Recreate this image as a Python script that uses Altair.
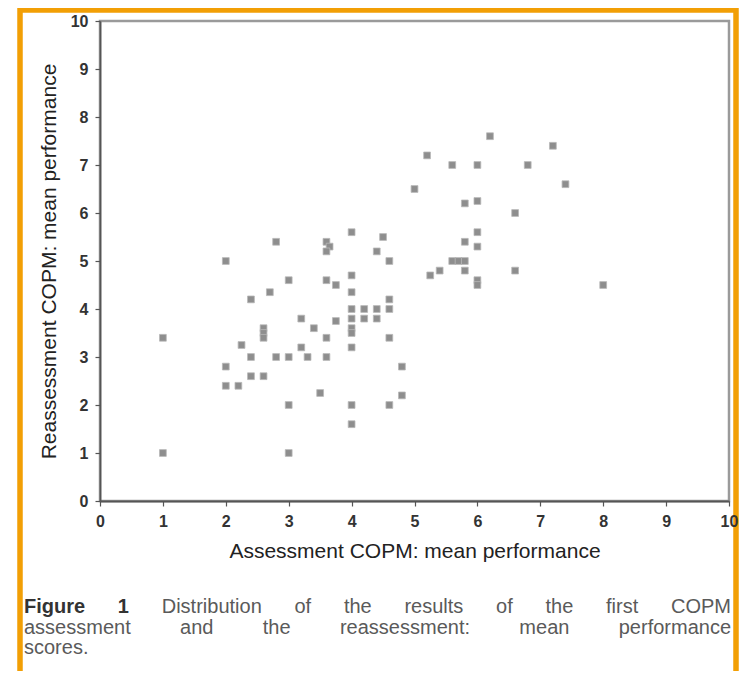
import altair as alt
import pandas as pd

# Data (assessment vs reassessment mean performance)
assess = [1.0, 1.0, 2.0, 2.0, 2.0, 2.2, 2.25, 2.4, 2.4, 2.4, 2.6, 2.6, 2.6, 2.6,
          2.7, 2.8, 2.8, 3.0, 3.0, 3.0, 3.0, 3.2, 3.4, 3.3, 3.2, 3.5,
          4.0, 4.5, 3.6, 3.65, 3.6, 4.4, 4.6, 3.6, 3.75, 4.0, 4.0, 4.6,
          4.0, 4.2, 4.4, 4.6, 4.0, 4.2, 4.4, 3.75, 4.0, 4.0, 3.6, 4.6, 3.6,
          4.0, 4.8, 4.8, 4.0, 4.6, 4.0,
          6.2, 7.2, 5.2, 5.6, 6.0, 6.8, 7.4, 5.0, 5.8, 6.0, 6.6, 6.0, 5.8,
          6.0, 5.6, 5.7, 5.8, 5.8, 5.4, 5.25, 6.6, 6.0, 6.0, 8.0]
reassess = [3.4, 1.0, 5.0, 2.8, 2.4, 2.4, 3.25, 3.0, 4.2, 2.6, 2.6, 3.6, 3.5, 3.4,
            4.35, 5.4, 3.0, 3.0, 4.6, 2.0, 1.0, 3.8, 3.6, 3.0, 3.2, 2.25,
            5.6, 5.5, 5.4, 5.3, 5.2, 5.2, 5.0, 4.6, 4.5, 4.7, 4.35, 4.2,
            4.0, 4.0, 4.0, 4.0, 3.8, 3.8, 3.8, 3.75, 3.6, 3.5, 3.4, 3.4, 3.0,
            3.2, 2.8, 2.2, 2.0, 2.0, 1.6,
            7.6, 7.4, 7.2, 7.0, 7.0, 7.0, 6.6, 6.5, 6.2, 6.25, 6.0, 5.6, 5.4,
            5.3, 5.0, 5.0, 5.0, 4.8, 4.8, 4.7, 4.8, 4.6, 4.5, 4.5]

tick_values = list(range(0, 11))
x_title = "Assessment COPM: mean performance"
y_title = "Reassessment COPM: mean performance"

caption_lines = [
    [("Figure", True), ("1", True), ("Distribution", False), ("of", False), ("the", False),
     ("results", False), ("of", False), ("the", False), ("first", False), ("COPM", False)],
    [("assessment", False), ("and", False), ("the", False), ("reassessment:", False),
     ("mean", False), ("performance", False)],
    [("scores.", False)],
]

FONT = "Liberation Sans"
W, H = 629, 480
CAP_SIZE = 20

# Arial / Liberation Sans advance widths (per 1000 em) to justify the caption
REG = {"a": 556, "b": 556, "c": 500, "d": 556, "e": 556, "f": 278, "g": 556, "h": 556,
       "i": 222, "l": 222, "m": 833, "n": 556, "o": 556, "p": 556, "r": 333, "s": 500,
       "t": 278, "u": 556, "C": 722, "D": 722, "M": 833, "O": 778, "P": 667,
       ":": 278, ".": 278, "1": 556}
BOLD = {"F": 611, "i": 278, "g": 611, "u": 611, "r": 389, "e": 556, "1": 556}


def word_w(w, bold):
    t = BOLD if bold else REG
    return sum(t.get(c, 556) for c in w) * CAP_SIZE / 1000.0


cap_left, cap_right = -76, 631
line_y = [586, 607, 627]
rows = []
for li, words in enumerate(caption_lines):
    widths = [word_w(w, b) for w, b in words]
    if li < len(caption_lines) - 1 and len(words) > 1:
        gap = (cap_right - cap_left - sum(widths)) / (len(words) - 1)
    else:
        gap = 0.28 * CAP_SIZE
    x = cap_left
    for (w, b), ww in zip(words, widths):
        rows.append({"word": w, "px": x, "py": line_y[li], "bold": "bold" if b else "normal"})
        x += ww + gap
cap_df = pd.DataFrame(rows)

df = pd.DataFrame({"assess": assess, "reassess": reassess})

points = alt.Chart(df).mark_square(size=46, color="#8e8e8e", opacity=1,
                                   stroke="#b8b8b8", strokeWidth=0.8).encode(
    x=alt.X("assess:Q", scale=alt.Scale(domain=[0, 10], nice=False),
            axis=alt.Axis(values=tick_values, title=x_title, grid=False,
                          tickSize=5, labelPadding=7, labelFlush=False,
                          titlePadding=11, format="d", zindex=2)),
    y=alt.Y("reassess:Q", scale=alt.Scale(domain=[0, 10], nice=False),
            axis=alt.Axis(values=tick_values, title=y_title, grid=False,
                          tickSize=5, labelPadding=7, labelFlush=False,
                          titlePadding=11, format="d", zindex=2)),
)

border = alt.Chart(pd.DataFrame({"a": [0]})).mark_rect(
    fill="transparent", stroke="#F29F05", strokeWidth=5.5, clip=False
).encode(x=alt.value(-80), x2=alt.value(636), y=alt.value(-11), y2=alt.value(720))

cap_bold = alt.Chart(cap_df[cap_df["bold"] == "bold"]).mark_text(
    align="left", baseline="middle", font=FONT, fontSize=CAP_SIZE, fontWeight="bold",
    color="#333333", clip=False
).encode(x=alt.X("px:Q", scale=None, axis=None), y=alt.Y("py:Q", scale=None, axis=None),
         text="word:N")

cap_reg = alt.Chart(cap_df[cap_df["bold"] == "normal"]).mark_text(
    align="left", baseline="middle", font=FONT, fontSize=CAP_SIZE,
    color="#5a5a5a", clip=False
).encode(x=alt.X("px:Q", scale=None, axis=None), y=alt.Y("py:Q", scale=None, axis=None),
         text="word:N")

chart = alt.layer(border, points, cap_bold, cap_reg).resolve_scale(
    x="independent", y="independent"
).properties(
    width=W, height=H,
    autosize=alt.AutoSizeParams(type="none"),
    padding={"left": 92, "top": 13, "right": 10, "bottom": 170},
    background="white",
).configure_view(
    stroke="#9a9a9a", strokeWidth=2.5
).configure_axis(
    domainColor="#555555", domainWidth=1.8, tickColor="#555555", tickWidth=1.2,
    labelFont=FONT, labelFontSize=16, labelFontWeight="bold", labelColor="#333333",
    titleFont=FONT, titleFontSize=21, titleFontWeight="normal", titleColor="#222222",
)

chart.save("out.html", embed_options={"renderer": "svg", "actions": False})
